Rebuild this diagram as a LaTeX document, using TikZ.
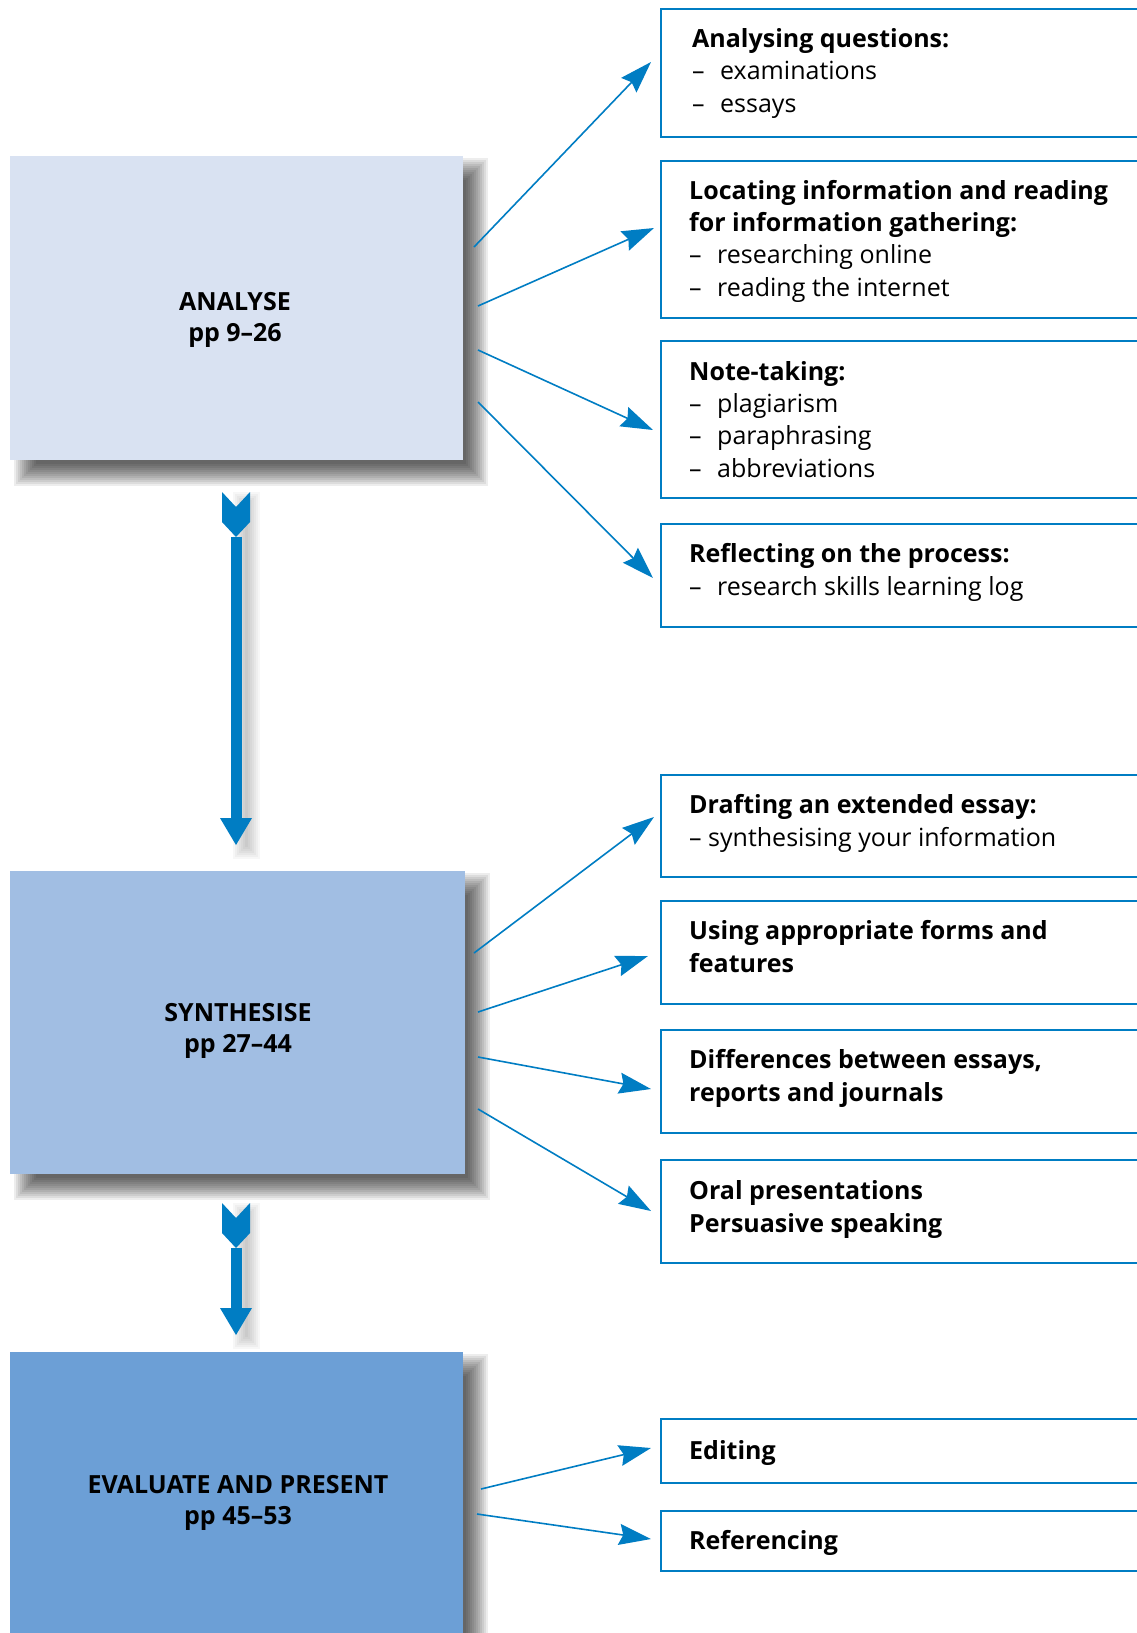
\documentclass[tikz,border=0pt]{standalone}
\usepackage{fontspec}
\setmainfont{Open Sans}
\usetikzlibrary{arrows.meta,calc}
\definecolor{flowblue}{RGB}{0,125,195}
\definecolor{stageA}{RGB}{217,226,242}
\definecolor{stageS}{RGB}{161,190,227}
\definecolor{stageE}{RGB}{108,159,214}
% soft drop shadow behind a rectangle (x1,y1)-(x2,y2)
\newcommand\softshadow[4]{%
  \foreach \e in {12,10,...,-10}{%
    \fill[black,opacity=0.07] (#1-\e,#2-\e) rectangle (#3+\e,#4+\e);}}
% thick down arrow with a chevron tail
\newcommand\bigdownarrow[4]{% x-centre, chevron top, shaft end, tip
  \foreach \e in {8,6,...,-4}{%
    \fill[black,opacity=0.03] (#1+10-5.5-\e,#2+8-\e) rectangle (#1+10+5.5+\e,#4+6+\e);}
  \fill[flowblue] (#1-14,#2) -- (#1,#2+15) -- (#1+14,#2) -- (#1+14,#2+30)
     -- (#1,#2+45) -- (#1-14,#2+30) -- cycle;
  \fill[flowblue] (#1-5.5,#2+45) rectangle (#1+5.5,#3);
  \fill[flowblue] (#1-16,#3) -- (#1+16,#3) -- (#1,#4) -- cycle;}
\begin{document}
\begin{tikzpicture}[x=1pt,y=-1pt,
  txt/.style={font=\fontsize{25}{32.3}\selectfont, inner sep=0pt, align=left, anchor=base west},
  stagelabel/.style={font=\fontsize{25}{31}\selectfont\bfseries, inner sep=0pt, align=center, anchor=base},
  stagebox/.style={draw=none, inner sep=0pt, anchor=north west},
  topicbox/.style={draw=flowblue, line width=2.3pt, inner sep=0pt, anchor=north west, minimum width=500},
  conn/.style={draw=flowblue, line width=1.6pt, -{Stealth[length=32pt,width=21pt,inset=4pt]}}]
\useasboundingbox (0,0) rectangle (1137,1633);
\clip (0,0) rectangle (1137,1633);
\fill[white] (0,0) rectangle (1137,1633);

% stage shadows
\softshadow{26}{170}{476}{474}
\softshadow{26}{885}{478}{1188}
\softshadow{26}{1366}{476}{1700}

% stages
\node[stagebox, fill=stageA, minimum width=453, minimum height=304] (an) at (10,156) {};
\node[stagebox, fill=stageS, minimum width=455, minimum height=303] (sy) at (10,871) {};
\node[stagebox, fill=stageE, minimum width=453, minimum height=300] (ev) at (10,1352) {};
\node[stagelabel] (anl) at (235,341) {ANALYSE\\pp 9–26};
\node[stagelabel] (syl) at (238,1052) {SYNTHESISE\\pp 27–44};
\node[stagelabel] (evl) at (238,1524) {EVALUATE AND PRESENT\\pp 45–53};

% down arrows between stages
\bigdownarrow{236}{492}{818}{845}
\bigdownarrow{236}{1203}{1308}{1335}

% topic boxes
\node[topicbox, minimum height=128] (t1) at (660,8) {};
\node[topicbox, minimum height=157] (t2) at (660,160) {};
\node[topicbox, minimum height=157] (t3) at (660,340) {};
\node[topicbox, minimum height=103] (t4) at (660,523) {};
\node[topicbox, minimum height=102] (t5) at (660,774) {};
\node[topicbox, minimum height=103] (t6) at (660,900) {};
\node[topicbox, minimum height=103] (t7) at (660,1029) {};
\node[topicbox, minimum height=103] (t8) at (660,1159) {};
\node[topicbox, minimum height=64] (t9) at (660,1418) {};
\node[topicbox, minimum height=60] (t10) at (660,1510) {};

\newcommand\itm[1]{\makebox[28pt][l]{–}#1}
\node[txt] (x1) at (692,112) {\textbf{Analysing questions:}\\\itm{examinations}\\\itm{essays}};
\node[txt] (x2) at (689,296) {\textbf{Locating information and reading}\\\textbf{for information gathering:}\\\itm{researching online}\\\itm{reading the internet}};
\node[txt] (x3) at (689,477) {\textbf{Note-taking:}\\\itm{plagiarism}\\\itm{paraphrasing}\\\itm{abbreviations}};
\node[txt] (x4) at (689,595) {\textbf{Reflecting on the process:}\\\itm{research skills learning log}};
\node[txt] (x5) at (689,846) {\textbf{Drafting an extended essay:}\\– synthesising your information};
\node[txt] (x6) at (689,972) {\textbf{Using appropriate forms and}\\\textbf{features}};
\node[txt] (x7) at (689,1101) {\textbf{Differences between essays,}\\\textbf{reports and journals}};
\node[txt] (x8) at (689,1232) {\textbf{Oral presentations}\\\textbf{Persuasive speaking}};
\node[txt] (x9) at (689,1459) {\textbf{Editing}};
\node[txt] (x10) at (689,1549) {\textbf{Referencing}};

% connector end points
\coordinate (a1s) at (474,247);  \coordinate (a1e) at (651,62);
\coordinate (a2s) at (478,306);  \coordinate (a2e) at (654,228);
\coordinate (a3s) at (478,350);  \coordinate (a3e) at (653,430);
\coordinate (a4s) at (478,402);  \coordinate (a4e) at (653,578);
\coordinate (s1s) at (474,953);  \coordinate (s1e) at (654,817);
\coordinate (s2s) at (478,1012); \coordinate (s2e) at (648,956);
\coordinate (s3s) at (478,1057); \coordinate (s3e) at (651,1089);
\coordinate (s4s) at (478,1109); \coordinate (s4e) at (651,1211);
\coordinate (e1s) at (481,1489); \coordinate (e1e) at (651,1448);
\coordinate (e2s) at (477,1514); \coordinate (e2e) at (651,1539);
\foreach \p in {a1,a2,a3,a4,s1,s2,s3,s4,e1,e2}
  \draw[conn] (\p s) -- (\p e);
\end{tikzpicture}
\end{document}
